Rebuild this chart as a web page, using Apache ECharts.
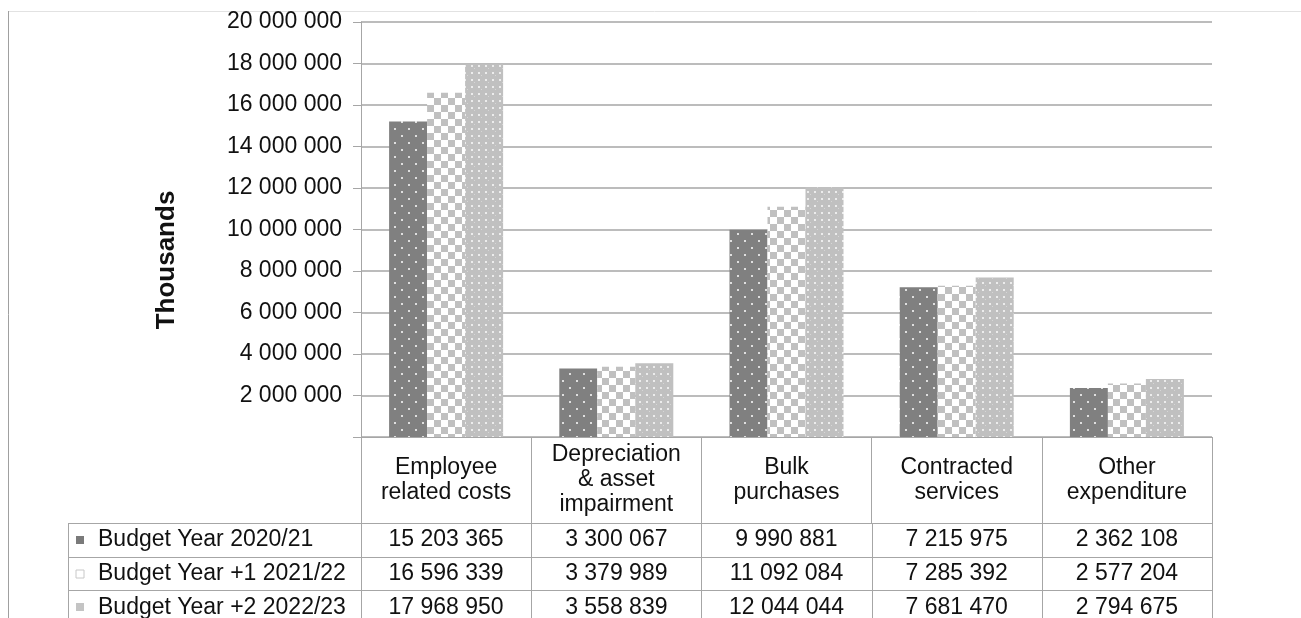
<!DOCTYPE html>
<html>
<head>
<meta charset="utf-8">
<title>Operating expenditure by type</title>
<script src="https://cdn.jsdelivr.net/npm/echarts@6/dist/echarts.min.js"></script>
<style>
  html, body { margin: 0; padding: 0; background: #fff; }
  #chart { width: 1301px; height: 618px; }
</style>
</head>
<body>
<div id="chart"></div>
<script>
// Expenditure categories (header row of the data table)
const categories = [
  'Employee\nrelated costs',
  'Depreciation\n& asset\nimpairment',
  'Bulk\npurchases',
  'Contracted\nservices',
  'Other\nexpenditure'
];

// Series names (row labels of the data table)
const seriesNames = [
  'Budget Year 2020/21',
  'Budget Year +1 2021/22',
  'Budget Year +2 2022/23'
];

// Values in thousands
const budget2020 = [15203365, 3300067, 9990881, 7215975, 2362108];
const budget2021 = [16596339, 3379989, 11092084, 7285392, 2577204];
const budget2022 = [17968950, 3558839, 12044044, 7681470, 2794675];

// Value axis scale
const yMin = 0;
const yMax = 20000000;
const yStep = 2000000;

const FONT = '"Liberation Sans", Arial, sans-serif';
const FS = 23;
const LINE = '#a6a6a6';
const TEXT = '#111';

function fmt(v) {
  return String(v).replace(/\B(?=(\d{3})+(?!\d))/g, ' ');
}

// Fill patterns for the three series
function makeTile(size, draw) {
  const c = document.createElement('canvas');
  c.width = size; c.height = size;
  draw(c.getContext('2d'));
  return { image: c, repeat: 'repeat' };
}
const patDark = makeTile(14, g => {
  g.fillStyle = '#808080'; g.fillRect(0, 0, 14, 14);
  g.fillStyle = 'rgba(255,255,255,0.75)';
  g.fillRect(2, 2, 2, 2); g.fillRect(9, 9, 2, 2);
});
const patChecker = makeTile(14, g => {
  g.fillStyle = '#ffffff'; g.fillRect(0, 0, 14, 14);
  g.fillStyle = '#c0c0c0';
  g.fillRect(0, 0, 7, 7); g.fillRect(7, 7, 7, 7);
});
const patLight = makeTile(14, g => {
  g.fillStyle = '#c0c0c0'; g.fillRect(0, 0, 14, 14);
  g.fillStyle = 'rgba(255,255,255,0.7)';
  g.fillRect(2, 2, 2, 2); g.fillRect(9, 2, 2, 2);
  g.fillRect(2, 9, 2, 2); g.fillRect(9, 9, 2, 2);
  g.fillStyle = 'rgba(255,255,255,0.35)';
  g.fillRect(5, 5, 1, 1); g.fillRect(12, 12, 1, 1);
});
const patterns = [patDark, patChecker, patLight];
const keyFills = ['#7a7a7a', '#ffffff', '#c4c4c4'];
const seriesData = [budget2020, budget2021, budget2022];

const chart = echarts.init(document.getElementById('chart'), null, { renderer: 'canvas' });

const gridTop = 22, gridLeft = 361, gridWidth = 851, gridHeight = 415;
const headerH = 86;

chart.setOption({
  animation: false,
  backgroundColor: '#ffffff',
  textStyle: { fontFamily: FONT },
  grid: { left: gridLeft, top: gridTop, width: gridWidth, height: gridHeight, containLabel: false },
  xAxis: {
    type: 'category',
    data: categories,
    boundaryGap: true,
    axisLine: { show: true, lineStyle: { color: LINE, width: 1 } },
    axisTick: { show: true, interval: 0, length: headerH, alignWithLabel: false, lineStyle: { color: LINE, width: 1 } },
    axisLabel: {
      interval: 0,
      margin: 43,
      verticalAlign: 'middle',
      fontFamily: FONT,
      fontSize: FS,
      lineHeight: 25,
      color: TEXT
    },
    splitLine: { show: false }
  },
  yAxis: {
    type: 'value',
    min: yMin,
    max: yMax,
    interval: yStep,
    axisLine: { show: true, lineStyle: { color: LINE, width: 1 } },
    axisTick: { show: true, length: 8, lineStyle: { color: LINE, width: 1 } },
    axisLabel: {
      margin: 19,
      fontFamily: FONT,
      fontSize: FS,
      color: TEXT,
      formatter: v => (v === 0 ? '' : fmt(v))
    },
    splitLine: { show: true, lineStyle: { color: LINE, width: 1.5 } }
  },
  series: seriesData.map((d, i) => ({
    name: seriesNames[i],
    type: 'bar',
    data: d,
    barWidth: 38,
    barGap: '0%',
    itemStyle: { color: patterns[i] }
  }))
});

// Data table below the axis, plus axis title and outer frame
function buildOverlay() {
  const x0 = chart.convertToPixel({ xAxisIndex: 0 }, 0);
  const x1 = chart.convertToPixel({ xAxisIndex: 0 }, 1);
  const band = x1 - x0;
  const axisY = chart.convertToPixel({ yAxisIndex: 0 }, yMin);
  const rowTop = axisY + headerH;
  const rowH = 33.7;
  const tableLeft = 68;
  const tableRight = x0 - band / 2 + band * categories.length;
  const bottom = 630;
  const els = [];

  // outer frame
  els.push({ type: 'line', shape: { x1: 8, y1: 11.5, x2: 1301, y2: 11.5 }, style: { stroke: '#e2e2e2', lineWidth: 1 }, silent: true });
  els.push({ type: 'line', shape: { x1: 8.5, y1: 11, x2: 8.5, y2: 618 }, style: { stroke: '#a0a0a0', lineWidth: 1 }, silent: true });

  // axis title
  els.push({
    type: 'text', x: 167, y: 260, rotation: Math.PI / 2, silent: true,
    style: { text: 'Thousands', fontFamily: FONT, fontSize: 26, fontWeight: 'bold', fill: TEXT, align: 'center', verticalAlign: 'middle' }
  });

  // horizontal rules of the data rows
  for (let r = 0; r < seriesNames.length; r++) {
    const y = Math.round(rowTop + r * rowH) + 0.5;
    els.push({ type: 'line', shape: { x1: tableLeft, y1: y, x2: tableRight, y2: y }, style: { stroke: LINE, lineWidth: 1 }, silent: true });
  }
  // vertical rules of the data rows
  const vx = [tableLeft];
  for (let c = 0; c <= categories.length; c++) vx.push(x0 - band / 2 + band * c);
  vx.forEach(x => {
    const xx = Math.round(x) + 0.5;
    els.push({ type: 'line', shape: { x1: xx, y1: rowTop, x2: xx, y2: bottom }, style: { stroke: LINE, lineWidth: 1 }, silent: true });
  });

  // row labels with legend keys, and values
  seriesNames.forEach((name, r) => {
    const cy = rowTop + r * rowH + rowH / 2;
    els.push({
      type: 'rect', shape: { x: 76, y: Math.round(cy - 4), width: 8, height: 8 }, silent: true,
      style: { fill: keyFills[r], stroke: r === 1 ? '#c8c8c8' : null, lineWidth: 1 }
    });
    els.push({
      type: 'text', x: 98, y: cy, silent: true,
      style: { text: name, fontFamily: FONT, fontSize: FS, fill: TEXT, align: 'left', verticalAlign: 'middle' }
    });
    seriesData[r].forEach((v, c) => {
      const cx = chart.convertToPixel({ xAxisIndex: 0 }, c);
      els.push({
        type: 'text', x: cx, y: cy, silent: true,
        style: { text: fmt(v), fontFamily: FONT, fontSize: FS, fill: TEXT, align: 'center', verticalAlign: 'middle' }
      });
    });
  });

  chart.setOption({ graphic: { elements: els } });
}
buildOverlay();
</script>
</body>
</html>
